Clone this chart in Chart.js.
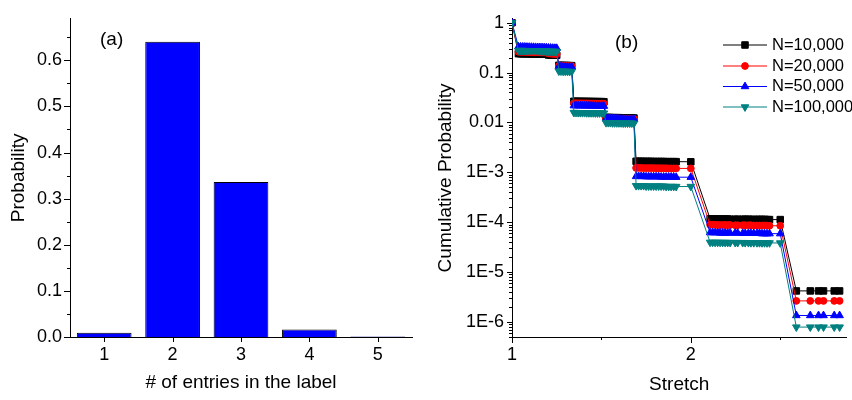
<!DOCTYPE html>
<html><head><meta charset="utf-8">
<script src="https://cdn.jsdelivr.net/npm/chart.js@4.4.1/dist/chart.umd.min.js"></script>
<style>
html,body{margin:0;padding:0;background:#fff;width:852px;height:400px;overflow:hidden}
#wa{position:absolute;left:0;top:0;width:430px;height:400px}
#wb{position:absolute;left:430px;top:0;width:422px;height:400px}
</style></head><body>
<div id="wa"><canvas id="ca" width="430" height="400"></canvas></div>
<div id="wb"><canvas id="cb" width="422" height="400"></canvas></div>
<script>
// ---------- Panel (a) data ----------
const entryCategories = ['1', '2', '3', '4', '5'];
const entryProbability = [0.009, 0.640, 0.336, 0.016, 0.001];
const probTicks = [0, 0.1, 0.2, 0.3, 0.4, 0.5, 0.6];
const probMinorTicks = [0.05, 0.15, 0.25, 0.35, 0.45, 0.55, 0.65];

// ---------- Panel (b) data ----------
const stretchValues = [
  1.0,
  1.036, 1.048, 1.06, 1.072, 1.084, 1.096, 1.108, 1.12, 1.132, 1.144, 1.156, 1.168, 1.18, 1.192, 1.204, 1.216, 1.228, 1.24, 1.25,
  1.262, 1.274, 1.286, 1.298, 1.31, 1.322, 1.334,
  1.346, 1.358, 1.37, 1.382, 1.394, 1.406, 1.418, 1.43, 1.442, 1.454, 1.466, 1.478, 1.49, 1.502, 1.514,
  1.526, 1.538, 1.55, 1.562, 1.574, 1.586, 1.598, 1.61, 1.622, 1.634, 1.646, 1.658, 1.67, 1.682,
  1.694, 1.708, 1.722, 1.736, 1.75, 1.764, 1.778, 1.792, 1.806, 1.82, 1.834, 1.848, 1.862, 1.876, 1.89, 1.904, 1.918, 2.0,
  2.108, 2.122, 2.136, 2.15, 2.164, 2.178, 2.192, 2.206, 2.22, 2.248, 2.262, 2.29, 2.304, 2.322, 2.336, 2.352, 2.37, 2.384, 2.398, 2.412, 2.426, 2.44, 2.5,
  2.59, 2.668, 2.714, 2.742, 2.802, 2.832
];
const cumN10000 = [
  1,
  0.240, 0.239, 0.239, 0.238, 0.238, 0.238, 0.237, 0.237, 0.237, 0.236, 0.236, 0.235, 0.235, 0.234, 0.226, 0.225, 0.225, 0.224, 0.223,
  0.140, 0.140, 0.139, 0.139, 0.139, 0.138, 0.138,
  0.0266, 0.0266, 0.0265, 0.0265, 0.0265, 0.0264, 0.0264, 0.0264, 0.0263, 0.0263, 0.0263, 0.0262, 0.0262, 0.0262, 0.0261,
  0.0126, 0.0126, 0.0126, 0.0125, 0.0125, 0.0125, 0.0125, 0.0124, 0.0124, 0.0124, 0.0124, 0.0123, 0.0123, 0.0123,
  0.00167, 0.00167, 0.00167, 0.00166, 0.00166, 0.00166, 0.00166, 0.00165, 0.00165, 0.00165, 0.00165, 0.00165, 0.00164, 0.00164, 0.00164, 0.00164, 0.00164, 0.00163,
  1.17e-4, 1.17e-4, 1.17e-4, 1.16e-4, 1.16e-4, 1.16e-4, 1.16e-4, 1.16e-4, 1.15e-4, 1.15e-4, 1.15e-4, 1.15e-4, 1.15e-4, 1.15e-4, 1.14e-4, 1.14e-4, 1.14e-4, 1.14e-4, 1.14e-4, 1.14e-4, 1.13e-4, 1.13e-4, 1.13e-4,
  4.2e-6, 4.2e-6, 4.2e-6, 4.2e-6, 4.2e-6, 4.2e-6
];
const cumN20000 = [
  1,
  0.262, 0.261, 0.260, 0.260, 0.259, 0.258, 0.258, 0.257, 0.256, 0.256, 0.255, 0.254, 0.254, 0.253, 0.244, 0.240, 0.238, 0.237, 0.236,
  0.137, 0.137, 0.136, 0.136, 0.136, 0.135, 0.135,
  0.0243, 0.0243, 0.0242, 0.0242, 0.0242, 0.0241, 0.0241, 0.0241, 0.0240, 0.0240, 0.0240, 0.0239, 0.0239, 0.0239, 0.0238,
  0.0121, 0.0121, 0.0121, 0.0120, 0.0120, 0.0120, 0.0120, 0.0119, 0.0119, 0.0119, 0.0119, 0.0118, 0.0118, 0.0118,
  0.00123, 0.00123, 0.00123, 0.00122, 0.00122, 0.00122, 0.00122, 0.00122, 0.00121, 0.00121, 0.00121, 0.00121, 0.00121, 0.00120, 0.00120, 0.00120, 0.00120, 0.00120,
  8.9e-5, 8.9e-5, 8.9e-5, 8.8e-5, 8.8e-5, 8.8e-5, 8.8e-5, 8.8e-5, 8.8e-5, 8.7e-5, 8.7e-5, 8.7e-5, 8.7e-5, 8.7e-5, 8.7e-5, 8.6e-5, 8.6e-5, 8.6e-5, 8.6e-5, 8.6e-5, 8.6e-5, 8.5e-5, 8.5e-5,
  2.65e-6, 2.65e-6, 2.65e-6, 2.65e-6, 2.65e-6, 2.65e-6
];
const cumN50000 = [
  1,
  0.330, 0.329, 0.328, 0.327, 0.326, 0.325, 0.324, 0.323, 0.322, 0.321, 0.320, 0.319, 0.318, 0.317, 0.314, 0.312, 0.310, 0.309, 0.308,
  0.132, 0.132, 0.131, 0.131, 0.131, 0.130, 0.130,
  0.0218, 0.0218, 0.0217, 0.0217, 0.0217, 0.0216, 0.0216, 0.0216, 0.0215, 0.0215, 0.0215, 0.0214, 0.0214, 0.0214, 0.0213,
  0.0119, 0.0119, 0.0119, 0.0118, 0.0118, 0.0118, 0.0118, 0.0117, 0.0117, 0.0117, 0.0117, 0.0116, 0.0116, 0.0116,
  8.3e-4, 8.3e-4, 8.3e-4, 8.3e-4, 8.2e-4, 8.2e-4, 8.2e-4, 8.2e-4, 8.2e-4, 8.2e-4, 8.1e-4, 8.1e-4, 8.1e-4, 8.1e-4, 8.1e-4, 8.1e-4, 8.0e-4, 8.0e-4,
  6.2e-5, 6.2e-5, 6.2e-5, 6.2e-5, 6.1e-5, 6.1e-5, 6.1e-5, 6.1e-5, 6.1e-5, 6.1e-5, 6.1e-5, 6.0e-5, 6.0e-5, 6.0e-5, 6.0e-5, 6.0e-5, 6.0e-5, 6.0e-5, 5.9e-5, 5.9e-5, 5.9e-5, 5.9e-5, 5.9e-5,
  1.35e-6, 1.35e-6, 1.35e-6, 1.35e-6, 1.35e-6, 1.35e-6
];
const cumN100000 = [
  1,
  0.278, 0.277, 0.277, 0.276, 0.276, 0.275, 0.275, 0.274, 0.274, 0.273, 0.273, 0.272, 0.272, 0.271, 0.269, 0.268, 0.267, 0.266, 0.265,
  0.107, 0.107, 0.106, 0.106, 0.106, 0.105, 0.105,
  0.0158, 0.0158, 0.0157, 0.0157, 0.0157, 0.0157, 0.0156, 0.0156, 0.0156, 0.0156, 0.0155, 0.0155, 0.0155, 0.0155, 0.0154,
  0.0099, 0.0099, 0.0099, 0.0098, 0.0098, 0.0098, 0.0098, 0.0098, 0.0097, 0.0097, 0.0097, 0.0097, 0.0097, 0.0096,
  5.4e-4, 5.4e-4, 5.4e-4, 5.4e-4, 5.3e-4, 5.3e-4, 5.3e-4, 5.3e-4, 5.3e-4, 5.3e-4, 5.3e-4, 5.3e-4, 5.2e-4, 5.2e-4, 5.2e-4, 5.2e-4, 5.2e-4, 5.2e-4,
  3.95e-5, 3.95e-5, 3.94e-5, 3.94e-5, 3.93e-5, 3.93e-5, 3.92e-5, 3.92e-5, 3.91e-5, 3.91e-5, 3.90e-5, 3.90e-5, 3.89e-5, 3.89e-5, 3.88e-5, 3.88e-5, 3.87e-5, 3.87e-5, 3.86e-5, 3.86e-5, 3.85e-5, 3.85e-5, 3.84e-5,
  7.9e-7, 7.9e-7, 7.9e-7, 7.9e-7, 7.9e-7, 7.9e-7
];
const seriesNames = ['N=10,000', 'N=20,000', 'N=50,000', 'N=100,000'];
const cumTicks = [1, 0.1, 0.01, 1e-3, 1e-4, 1e-5, 1e-6];
const cumTickLabels = ['1', '0.1', '0.01', '1E-3', '1E-4', '1E-5', '1E-6'];
const stretchTicks = [1, 2];
const stretchTickLabels = ['1', '2'];
const stretchMinorTicks = [1.5, 2.5];

// ---------- helpers ----------
const FONT = "'Liberation Sans', Arial, Helvetica, sans-serif";
Chart.defaults.font.family = FONT;
Chart.defaults.color = '#000';

const tickMarks = {
  id: 'tickMarks',
  afterDraw(chart, args, opts) {
    const ctx = chart.ctx;
    ctx.save();
    ctx.strokeStyle = '#000';
    ctx.lineWidth = 1;
    ['x', 'y'].forEach(axis => {
      const cfg = opts[axis];
      if (!cfg) return;
      const sc = chart.scales[axis];
      const draw = (vals, len) => vals.forEach(v => {
        const p = sc.getPixelForValue(v);
        ctx.beginPath();
        if (axis === 'x') {
          const px = Math.round(p) + 0.5;
          ctx.moveTo(px, sc.top); ctx.lineTo(px, sc.top + len);
        } else {
          const py = Math.round(p) + 0.5;
          ctx.moveTo(sc.right, py); ctx.lineTo(sc.right - len, py);
        }
        ctx.stroke();
      });
      draw(cfg.major || [], cfg.majorLen || 6);
      draw(cfg.minor || [], cfg.minorLen || 3);
    });
    ctx.restore();
  }
};

const panelText = {
  id: 'panelText',
  afterDraw(chart, args, opts) {
    if (!opts.text) return;
    const ctx = chart.ctx;
    ctx.save();
    ctx.fillStyle = '#000';
    ctx.font = opts.size + 'px ' + FONT;
    ctx.textAlign = 'left';
    ctx.textBaseline = 'middle';
    ctx.fillText(opts.text, opts.x, opts.y);
    ctx.restore();
  }
};

function drawMarker(ctx, style, r, rot, x, y) {
  ctx.beginPath();
  if (style === 'rect') {
    const s = r * Math.SQRT1_2;
    ctx.rect(x - s, y - s, 2 * s, 2 * s);
  } else if (style === 'circle') {
    ctx.arc(x, y, r, 0, Math.PI * 2);
  } else {
    const sgn = rot === 180 ? -1 : 1;
    ctx.moveTo(x, y - sgn * r);
    ctx.lineTo(x + r * 0.866, y + sgn * r * 0.5);
    ctx.lineTo(x - r * 0.866, y + sgn * r * 0.5);
    ctx.closePath();
  }
  ctx.fill();
  ctx.stroke();
}

const lineLegend = {
  id: 'lineLegend',
  afterDraw(chart, args, opts) {
    const ctx = chart.ctx;
    ctx.save();
    chart.data.datasets.forEach((ds, i) => {
      const y = opts.rows[i];
      ctx.strokeStyle = ds.borderColor;
      ctx.fillStyle = ds.backgroundColor;
      ctx.lineWidth = 1;
      ctx.beginPath();
      ctx.moveTo(opts.x0, y); ctx.lineTo(opts.x1, y);
      ctx.stroke();
      drawMarker(ctx, ds.pointStyle, ds.pointRadius, ds.pointRotation || 0, (opts.x0 + opts.x1) / 2, y);
      ctx.fillStyle = '#000';
      ctx.font = opts.size + 'px ' + FONT;
      ctx.textAlign = 'left';
      ctx.textBaseline = 'middle';
      ctx.fillText(ds.label, opts.tx, y);
    });
    ctx.restore();
  }
};

// ---------- Panel (a) ----------
new Chart(document.getElementById('ca'), {
  type: 'bar',
  data: {
    labels: entryCategories,
    datasets: [{
      data: entryProbability,
      backgroundColor: '#0000ff',
      borderColor: '#000',
      borderWidth: 1,
      categoryPercentage: 1,
      barPercentage: 0.8
    }]
  },
  options: {
    responsive: false, animation: false, devicePixelRatio: 1,
    layout: { padding: { left: 0, top: 12, right: 18, bottom: 0 } },
    plugins: {
      legend: { display: false }, tooltip: { enabled: false },
      tickMarks: { x: { major: [0, 1, 2, 3, 4], majorLen: 5 }, y: { major: probTicks, minor: probMinorTicks, majorLen: 6, minorLen: 3 } },
      panelText: { text: '(a)', x: 100, y: 40, size: 19 }
    },
    scales: {
      x: {
        grid: { display: false, drawTicks: false },
        border: { display: true, color: '#000', width: 1 },
        ticks: { color: '#000', font: { size: 18 }, padding: 7 },
        title: { display: true, text: '# of entries in the label', color: '#000', font: { size: 19 }, padding: { top: 0, bottom: 6 } },
        afterFit(s) { s.height = 63; }
      },
      y: {
        min: 0, max: 0.69,
        grid: { display: false, drawTicks: false },
        border: { display: true, color: '#000', width: 1 },
        afterBuildTicks(s) { s.ticks = probTicks.map(v => ({ value: v })); },
        ticks: { color: '#000', font: { size: 18 }, padding: 8, callback: v => Number(v).toFixed(1) },
        title: { display: true, text: 'Probability', color: '#000', font: { size: 19 }, padding: { top: 7, bottom: 0 } },
        afterFit(s) { s.width = 70; }
      }
    }
  },
  plugins: [tickMarks, panelText]
});

// ---------- Panel (b) ----------
const pts = arr => stretchValues.map((s, i) => ({ x: s, y: arr[i] }));
const logMinor = [];
[1e-7, 1e-6, 1e-5, 1e-4, 1e-3, 1e-2, 1e-1].forEach(d => { for (let k = 2; k <= 9; k++) { const v = d * k; if (v >= 5e-7 && v <= 1.2) logMinor.push(v); } });

new Chart(document.getElementById('cb'), {
  type: 'line',
  data: {
    datasets: [
      { label: seriesNames[0], data: pts(cumN10000), borderColor: '#000000', backgroundColor: '#000000', pointStyle: 'rect', pointRadius: 4.6, pointBorderWidth: 1, borderWidth: 1, order: 3 },
      { label: seriesNames[1], data: pts(cumN20000), borderColor: '#ff0000', backgroundColor: '#ff0000', pointStyle: 'circle', pointRadius: 3.4, pointBorderWidth: 1, borderWidth: 1, order: 2 },
      { label: seriesNames[2], data: pts(cumN50000), borderColor: '#0000ff', backgroundColor: '#0000ff', pointStyle: 'triangle', pointRadius: 4.4, pointBorderWidth: 1, borderWidth: 1, order: 1 },
      { label: seriesNames[3], data: pts(cumN100000), borderColor: '#008080', backgroundColor: '#008080', pointStyle: 'triangle', pointRotation: 180, pointRadius: 4.4, pointBorderWidth: 1, borderWidth: 1, order: 0 }
    ]
  },
  options: {
    responsive: false, animation: false, devicePixelRatio: 1,
    layout: { padding: { left: 0, top: 10, right: 5, bottom: 0 } },
    plugins: {
      legend: { display: false }, tooltip: { enabled: false },
      tickMarks: { x: { major: stretchTicks, minor: stretchMinorTicks, majorLen: 6, minorLen: 3 }, y: { major: cumTicks, minor: logMinor, majorLen: 5, minorLen: 3 } },
      panelText: { text: '(b)', x: 185, y: 43, size: 19 },
      lineLegend: { x0: 293, x1: 337, tx: 342, rows: [45, 66, 86.5, 107], size: 16.5 }
    },
    scales: {
      x: {
        type: 'linear', min: 1, max: 2.87,
        grid: { display: false, drawTicks: false },
        border: { display: true, color: '#000', width: 1 },
        afterBuildTicks(s) { s.ticks = stretchTicks.map(v => ({ value: v })); },
        ticks: { color: '#000', font: { size: 18 }, padding: 7, callback: (v, i) => stretchTickLabels[i] },
        title: { display: true, text: 'Stretch', color: '#000', font: { size: 19 }, padding: { top: 0, bottom: 4 } },
        afterFit(s) { s.height = 63; }
      },
      y: {
        type: 'logarithmic', min: 5e-7, max: 1.2,
        grid: { display: false, drawTicks: false },
        border: { display: true, color: '#000', width: 1 },
        afterBuildTicks(s) { s.ticks = cumTicks.map(v => ({ value: v })); },
        ticks: { color: '#000', font: { size: 18 }, padding: 8, callback: (v, i) => cumTickLabels[i] },
        title: { display: true, text: 'Cumulative Probability', color: '#000', font: { size: 19 }, padding: { top: 4, bottom: 0 } },
        afterFit(s) { s.width = 82; }
      }
    }
  },
  plugins: [tickMarks, panelText, lineLegend]
});
</script>
</body></html>
